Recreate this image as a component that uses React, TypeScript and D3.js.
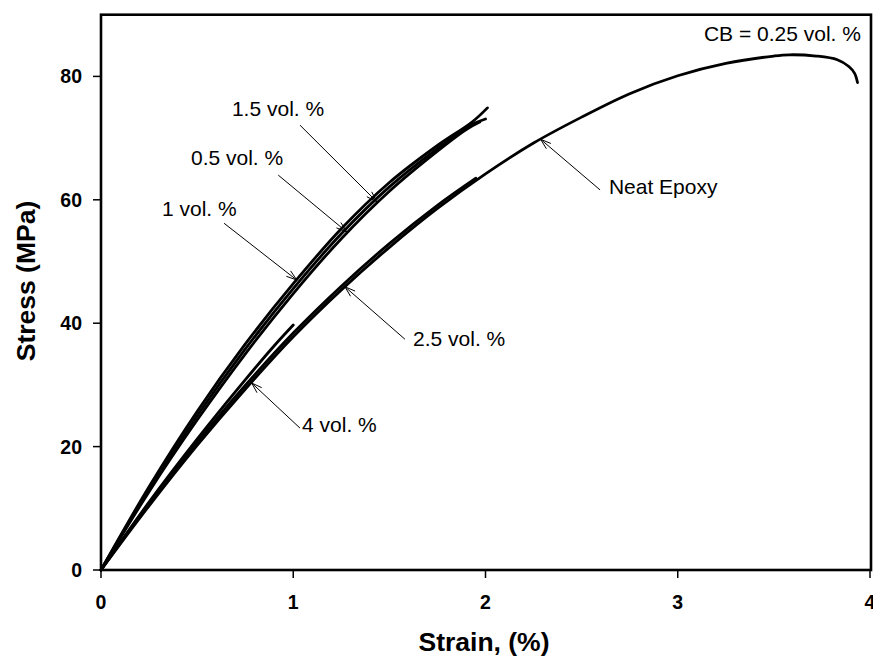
import React from "react";
import * as d3 from "d3";

// ---- data (strain %, stress MPa) ----
const neatEpoxy: [number, number][] = [
  [0, 0], [0.25, 10.4], [0.5, 20.2], [0.75, 29.3], [1.0, 37.8], [1.25, 45.4], [1.5, 52.3],
  [1.75, 58.6], [2.0, 64.2], [2.25, 69.2], [2.5, 73.4], [2.75, 77.2], [3.0, 80.1],
  [3.25, 82.1], [3.5, 83.3], [3.58, 83.5], [3.72, 83.3], [3.83, 82.7], [3.89, 81.6],
  [3.92, 80.5], [3.935, 79.0],
];
const vol05: [number, number][] = [
  [0, 0], [0.25, 13.1], [0.5, 25.0], [0.75, 35.8], [1.0, 45.6], [1.25, 54.5], [1.5, 62.1],
  [1.75, 68.3], [1.93, 72.2], [2.0, 73.1],
];
const vol1: [number, number][] = [
  [0, 0], [0.25, 12.7], [0.5, 24.3], [0.75, 35.0], [1.0, 44.8], [1.25, 53.7], [1.5, 61.4],
  [1.75, 67.9], [1.9, 71.4], [1.97, 72.6],
];
const vol15: [number, number][] = [
  [0, 0], [0.25, 13.5], [0.5, 25.7], [0.75, 36.6], [1.0, 46.4], [1.25, 55.3], [1.5, 62.8],
  [1.75, 68.8], [1.93, 72.6], [2.01, 74.9],
];
const vol25: [number, number][] = [
  [0, 0], [0.25, 10.8], [0.5, 20.7], [0.75, 29.9], [1.0, 38.4], [1.25, 46.0], [1.5, 52.9],
  [1.75, 59.1], [1.95, 63.5],
];
const vol4: [number, number][] = [
  [0, 0], [0.25, 11.0], [0.5, 21.2], [0.75, 30.8], [0.9, 36.3], [1.0, 39.7],
];
const seriesList = [neatEpoxy, vol05, vol1, vol15, vol25, vol4];

const xTicks = [0, 1, 2, 3, 4];
const yTicks = [0, 20, 40, 60, 80];

// annotations: label, text anchor (data), arrow start (data), arrow tip (data)
const annLabels = ["1.5 vol. %", "0.5 vol. %", "1 vol. %", "Neat Epoxy", "2.5 vol. %", "4 vol. %"];
const annText: [number, number][] = [
  [0.681, 73.6], [0.468, 65.6], [0.317, 57.4], [2.642, 60.9], [1.623, 36.3], [1.046, 22.4],
];
const annFrom: [number, number][] = [
  [1.035, 72.1], [0.922, 64.0], [0.64, 56.2], [2.596, 61.6], [1.581, 37.4], [1.035, 23.0],
];
const annTip: [number, number][] = [
  [1.434, 59.7], [1.278, 54.8], [1.018, 47.0], [2.287, 69.8], [1.269, 45.9], [0.784, 30.3],
];
const cornerNote = "CB = 0.25 vol. %";
const cornerPos: [number, number] = [3.953, 85.7];

const W = 873;
const H = 664;
const left = 101;
const top = 14.7;
const plotRight = 870;
const bottom = 570;
const FONT = "'Liberation Sans', Arial, Helvetica, sans-serif";

export default function App() {
  const x = d3.scaleLinear().domain([0, 4]).range([left, plotRight]);
  const y = d3.scaleLinear().domain([0, 90]).range([bottom, top]);
  const line = d3
    .line<[number, number]>()
    .x((d) => x(d[0]))
    .y((d) => y(d[1]))
    .curve(d3.curveCatmullRom.alpha(0.5));

  const arrowHead = (from: [number, number], tip: [number, number]) => {
    const fx = x(from[0]), fy = y(from[1]);
    const tx = x(tip[0]), ty = y(tip[1]);
    const ang = Math.atan2(fy - ty, fx - tx);
    const len = 11;
    const spread = 0.32;
    const a1 = [tx + len * Math.cos(ang + spread), ty + len * Math.sin(ang + spread)];
    const a2 = [tx + len * Math.cos(ang - spread), ty + len * Math.sin(ang - spread)];
    return `M${a1[0]},${a1[1]}L${tx},${ty}L${a2[0]},${a2[1]}`;
  };

  return (
    <div style={{ position: "absolute", left: 0, top: 0 }}>
      <svg width={W} height={H} style={{ display: "block", background: "#fff" }}>
        <rect x={0} y={0} width={W} height={H} fill="#fff" />
        {/* curves */}
        {seriesList.map((s, i) => (
          <path key={i} d={line(s) || ""} fill="none" stroke="#000" strokeWidth={2.8} strokeLinejoin="round" strokeLinecap="round" />
        ))}
        {/* frame */}
        <rect x={left} y={top} width={871 - left} height={bottom - top} fill="none" stroke="#000" strokeWidth={2.6} />
        {/* y ticks */}
        {yTicks.map((t) => (
          <g key={"y" + t}>
            <line x1={left - 8} x2={left} y1={y(t)} y2={y(t)} stroke="#000" strokeWidth={1.5} />
            <text x={82} y={y(t)} dy="0.36em" textAnchor="end" fontFamily={FONT} fontWeight="bold" fontSize={19.5} fill="#000">
              {t}
            </text>
          </g>
        ))}
        {/* x ticks */}
        {xTicks.map((t) => (
          <g key={"x" + t}>
            <line x1={x(t)} x2={x(t)} y1={bottom} y2={bottom + 8} stroke="#000" strokeWidth={1.5} />
            <text x={x(t)} y={609} textAnchor="middle" fontFamily={FONT} fontWeight="bold" fontSize={19.5} fill="#000">
              {t}
            </text>
          </g>
        ))}
        {/* axis titles */}
        <text x={484} y={651} textAnchor="middle" fontFamily={FONT} fontWeight="bold" fontSize={26.5} fill="#000">
          Strain, (%)
        </text>
        <text
          transform={`translate(35, 281) rotate(-90)`}
          textAnchor="middle"
          fontFamily={FONT}
          fontWeight="bold"
          fontSize={26.5}
          fill="#000"
        >
          Stress (MPa)
        </text>
        {/* annotations */}
        {annLabels.map((lab, i) => (
          <g key={"a" + i}>
            <line x1={x(annFrom[i][0])} y1={y(annFrom[i][1])} x2={x(annTip[i][0])} y2={y(annTip[i][1])} stroke="#000" strokeWidth={1} />
            <path d={arrowHead(annFrom[i], annTip[i])} fill="none" stroke="#000" strokeWidth={1} />
            <text x={x(annText[i][0])} y={y(annText[i][1])} fontFamily={FONT} fontSize={21} fill="#000">
              {lab}
            </text>
          </g>
        ))}
        <text x={x(cornerPos[0])} y={y(cornerPos[1])} textAnchor="end" fontFamily={FONT} fontSize={21} fill="#000">
          {cornerNote}
        </text>
      </svg>
    </div>
  );
}
